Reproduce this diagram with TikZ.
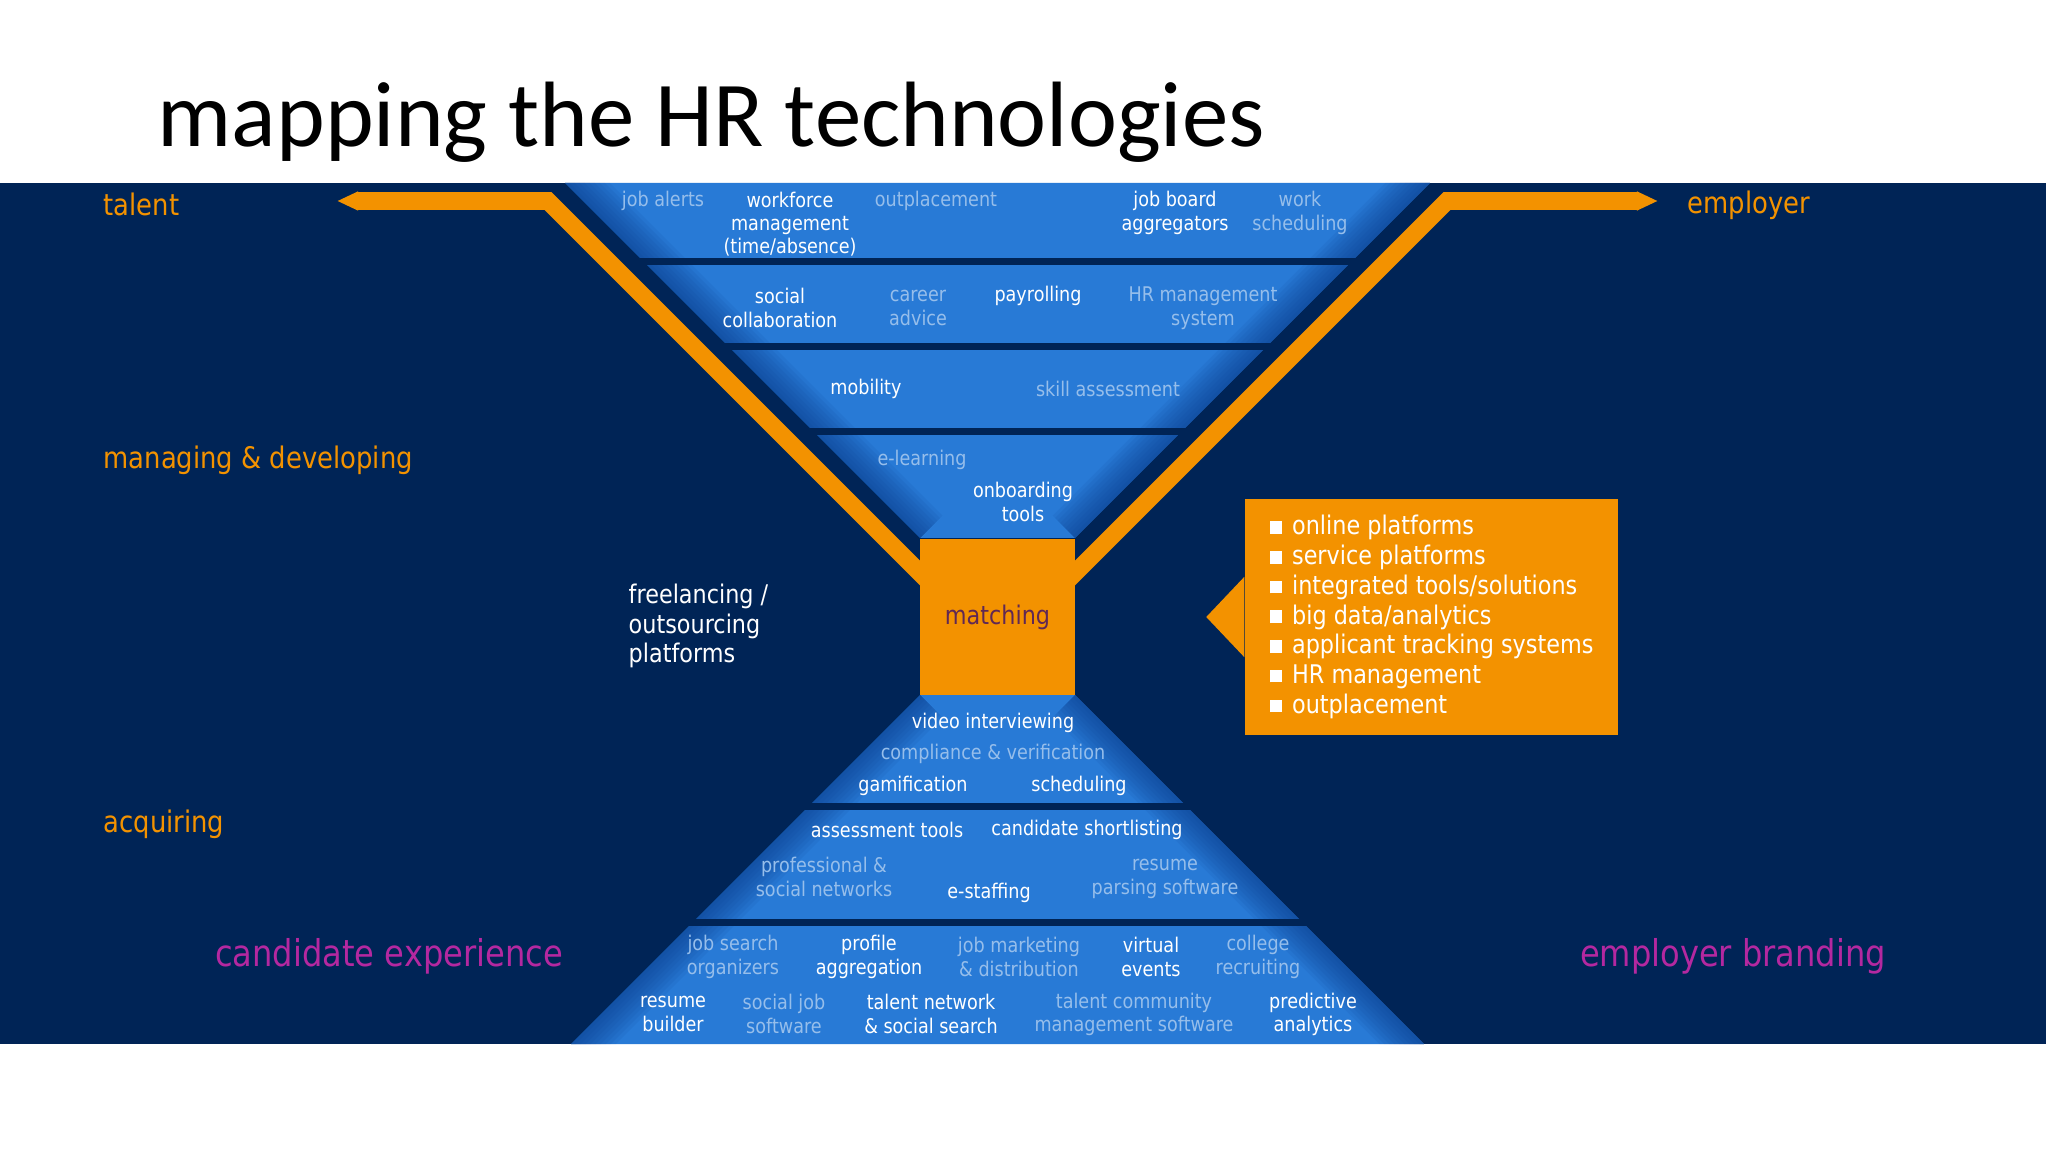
\documentclass[tikz,border=0pt]{standalone}
\usepackage{fontspec}
\setmainfont{Carlito}
\newfontfamily\hrfont{DejaVu Sans}[FakeStretch=0.87]
\usetikzlibrary{arrows.meta}

\definecolor{navy}{RGB}{0,36,86}
\definecolor{band}{RGB}{40,122,214}
\definecolor{bandedge}{RGB}{8,52,128}
\definecolor{hrorange}{RGB}{243,146,0}
\definecolor{dimtext}{RGB}{150,190,235}
\definecolor{hrmagenta}{RGB}{180,40,160}
\definecolor{matchtext}{RGB}{96,40,84}

\newcommand{\hrbul}{\raisebox{0.3pt}{\rule{3.6pt}{3.6pt}}\hspace{2.8pt}}

\begin{document}
\begin{tikzpicture}[x=0.01cm, y=-0.01cm,
  every node/.style={inner sep=0pt, font=\hrfont},
  hi/.style={text=white, align=center, yshift=-0.6pt, font=\hrfont\fontsize{5.75}{6.65}\selectfont},
  lo/.style={hi, text=dimtext},
  side/.style={text=hrorange, anchor=west, yshift=-0.8pt, font=\hrfont\fontsize{8.45}{10}\selectfont},
  brand/.style={text=hrmagenta, yshift=-1pt, font=\hrfont\fontsize{10.5}{12}\selectfont},
  midtext/.style={font=\hrfont\fontsize{7.3}{8.45}\selectfont},
  hrline/.style={draw=hrorange, line width=5pt, line join=miter, {Triangle[length=6pt, width=0pt 1]}-}]

\fill[white] (0,0) rectangle (2048,1152);
\useasboundingbox (0,0) rectangle (2048,1152);
\node[anchor=base west, font=\fontsize{26.4}{30}\selectfont] (title) at (157,147) {mapping the HR technologies};

\fill[navy] (0,183) rectangle (2046,1044);

\coordinate (ftl) at (565,183);
\coordinate (ftr) at (1430,183);
\coordinate (fbr) at (1075,538);
\coordinate (fbl) at (920,538);
\coordinate (ptl) at (920,695);
\coordinate (ptr) at (1075,695);
\coordinate (pbr) at (1424,1044);
\coordinate (pbl) at (571,1044);

\foreach \a/\b/\c/\d in {ftl/ftr/fbr/fbl, ptl/ptr/pbr/pbl}{
  \begin{scope}
    \clip (\a) -- (\b) -- (\c) -- (\d) -- cycle;
    \fill[band] (\a) -- (\b) -- (\c) -- (\d) -- cycle;
    \foreach \w in {2,4,...,18}
      \draw[bandedge, opacity=0.08, line width=\w*1pt] (\a) -- (\d) (\b) -- (\c);
  \end{scope}
}
\foreach \y in {258,343,428,803,919}
  \fill[navy] (500,\y) rectangle (1500,\y+7);

\coordinate (ltip) at (337,201);
\coordinate (lbend) at (548,201);
\coordinate (lin) at (945,598);
\coordinate (rtip) at (1658,201);
\coordinate (rbend) at (1447,201);
\coordinate (rin) at (1050,598);
\draw[hrline] (ltip) -- (lbend) -- (lin);
\draw[hrline] (rtip) -- (rbend) -- (rin);

\node[fill=hrorange, minimum width=44.1pt, minimum height=44.4pt, text=matchtext, midtext] (match) at (997.5,617) {matching};

\node[fill=hrorange, minimum width=106.1pt, minimum height=67.1pt, text=white, align=left, midtext] (info) at (1431.5,617)
  {\hrbul online platforms\\ \hrbul service platforms\\ \hrbul integrated tools/solutions\\ \hrbul big data/analytics\\
   \hrbul applicant tracking systems\\ \hrbul HR management\\ \hrbul outplacement};
\fill[hrorange] ([yshift=11.4pt]info.west) -- ([xshift=-10.8pt]info.west) -- ([yshift=-11.4pt]info.west) -- cycle;

\node[side] (talent) at (103,202) {talent};
\node[side] (managing) at (103,457) {managing \& developing};
\node[side] (acquiring) at (103,821) {acquiring};
\node[side] (employer) at (1687,202) {employer};
\node[brand] (candidate) at (389,953) {candidate experience};
\node[brand] (branding) at (1733,953) {employer branding};
\node[anchor=west, align=left, text=white, font=\hrfont\fontsize{7.3}{8.4}\selectfont] (freelance) at (628,626) {freelancing /\\outsourcing\\platforms};

\node[lo] (alerts) at (663,199) {job alerts};
\node[hi] (workforce) at (790,222) {workforce\\management\\(time/absence)};
\node[lo] (outplace) at (936,199) {outplacement};
\node[hi] (aggreg) at (1175,211) {job board\\aggregators};
\node[lo] (worksched) at (1300,211) {work\\scheduling};
\node[hi] (social) at (780,306) {social\\collaboration};
\node[lo] (career) at (918,306) {career\\advice};
\node[hi] (payroll) at (1038,294) {payrolling};
\node[lo] (hrms) at (1203,306) {HR management\\system};
\node[hi] (mobility) at (866,387) {mobility};
\node[lo] (skill) at (1108,387) {skill assessment};
\node[lo] (elearn) at (922,458) {e-learning};
\node[hi] (onboard) at (1023,500) {onboarding\\tools};

\node[hi] (video) at (993,721) {video interviewing};
\node[lo] (compliance) at (993,752) {compliance \& verification};
\node[hi] (gamif) at (913,784) {gamification};
\node[hi] (sched) at (1079,784) {scheduling};
\node[hi] (assess) at (887,828) {assessment tools};
\node[hi] (shortlist) at (1087,828) {candidate shortlisting};
\node[lo] (networks) at (824,875) {professional \&\\social networks};
\node[hi] (estaff) at (989,891) {e-staffing};
\node[lo] (parsing) at (1165,877) {resume\\parsing software};
\node[lo] (jsearch) at (733,955) {job search\\organizers};
\node[hi] (profile) at (869,955) {profile\\aggregation};
\node[lo] (jmarket) at (1019,955) {job marketing\\\& distribution};
\node[hi] (virtual) at (1151,955) {virtual\\events};
\node[lo] (college) at (1258,955) {college\\recruiting};
\node[hi] (resume) at (673,1012) {resume\\builder};
\node[lo] (socialjob) at (784,1012) {social job\\software};
\node[hi] (talentnet) at (931,1012) {talent network\\\& social search};
\node[lo] (community) at (1134,1012) {talent community\\management software};
\node[hi] (predict) at (1313,1012) {predictive\\analytics};

\end{tikzpicture}
\end{document}
